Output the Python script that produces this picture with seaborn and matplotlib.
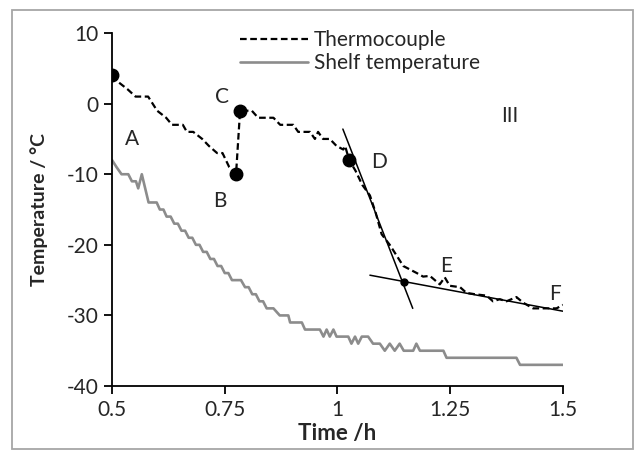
import matplotlib
matplotlib.use("Agg")
import matplotlib.pyplot as plt
from matplotlib.patches import Rectangle
import numpy as np
import pandas as pd
import seaborn as sns

# Thermocouple reading (dashed black)
thermo_t = [0.500, 0.515, 0.535, 0.552, 0.580, 0.600, 0.620, 0.633, 0.657, 0.666,
            0.680, 0.700, 0.715, 0.733, 0.745, 0.760, 0.775, 0.784, 0.810, 0.824,
            0.858, 0.873, 0.902, 0.913, 0.939, 0.950, 0.957, 0.968, 0.983, 0.998,
            1.013, 1.017, 1.026, 1.040, 1.055, 1.072, 1.085, 1.098, 1.116, 1.131,
            1.146, 1.176, 1.190, 1.205, 1.216, 1.227, 1.238, 1.249, 1.272, 1.286,
            1.305, 1.331, 1.345, 1.360, 1.375, 1.397, 1.412, 1.434, 1.464, 1.486, 1.500]
thermo_T = [4, 3, 2, 1, 1, -1, -2, -3, -3, -4,
            -4, -5, -6, -7, -7, -9, -10, -1, -1, -2,
            -2, -3, -3, -4, -4, -5, -4, -5, -5, -6,
            -6.5, -6, -8, -9.5, -11.5, -13, -15.5, -18.5, -20, -21.5,
            -23, -24, -24.5, -24.4, -25, -25.6, -24.6, -25.8, -26, -26.8,
            -27, -27.2, -28, -27.7, -28, -27.4, -28.2, -29, -29, -29, -28.5]

# Shelf temperature (solid grey)
shelf_t = [0.500, 0.510, 0.521, 0.536, 0.544, 0.553, 0.558, 0.566, 0.581, 0.599,
           0.606, 0.614, 0.621, 0.630, 0.638, 0.646, 0.654, 0.662, 0.670, 0.678,
           0.686, 0.694, 0.702, 0.710, 0.718, 0.726, 0.734, 0.742, 0.750, 0.758,
           0.766, 0.786, 0.795, 0.803, 0.811, 0.819, 0.827, 0.835, 0.843, 0.858,
           0.872, 0.891, 0.895, 0.921, 0.928, 0.961, 0.969, 0.976, 0.983, 0.991,
           0.998, 1.024, 1.031, 1.039, 1.046, 1.054, 1.068, 1.079, 1.094, 1.105,
           1.116, 1.127, 1.138, 1.147, 1.168, 1.175, 1.183, 1.235, 1.242, 1.397,
           1.405, 1.500]
shelf_T = [-8, -9, -10, -10, -11, -11, -12, -10, -14, -14,
           -15, -15, -16, -16, -17, -17, -18, -18, -19, -19,
           -20, -20, -21, -21, -22, -22, -23, -23, -24, -24,
           -25, -25, -26, -26, -27, -27, -28, -28, -29, -29,
           -30, -30, -31, -31, -32, -32, -33, -32, -33, -32,
           -33, -33, -34, -33, -34, -33, -33, -34, -34, -35,
           -34, -35, -34, -35, -35, -34, -35, -35, -36, -36,
           -37, -37]

# tangent lines
tan1_t = [1.012, 1.167]
tan1_T = [-3.6, -29.0]
tan2_t = [1.072, 1.500]
tan2_T = [-24.3, -29.4]

# marked points
key_t = [0.500, 0.775, 0.784, 1.026]
key_T = [4, -10, -1, -8]
cross_t = [1.148]
cross_T = [-25.3]

# point labels
label_text = ["A", "B", "C", "D", "E", "F", "III"]
label_t = [0.544, 0.739, 0.743, 1.093, 1.242, 1.482, 1.382]
label_T = [-5.0, -13.8, 0.9, -8.3, -23.0, -27.0, -1.7]

sns.set_style("ticks")
plt.rcParams["font.family"] = ["Lato", "DejaVu Sans"]
plt.rcParams["axes.unicode_minus"] = False
FS = 15

fig = plt.figure(figsize=(6.44, 4.59), dpi=100)
ax = fig.add_axes([0.174, 0.159, 0.700, 0.769])

thermo = pd.DataFrame({"t": thermo_t, "T": thermo_T})
shelf = pd.DataFrame({"t": shelf_t, "T": shelf_T})

sns.lineplot(data=thermo, x="t", y="T", ax=ax, sort=False, color="black",
             linestyle=(0, (3, 1.6)), linewidth=1.6, label="Thermocouple")
sns.lineplot(data=shelf, x="t", y="T", ax=ax, sort=False, color="#8c8c8c",
             linewidth=1.9, label="Shelf temperature")
ax.plot(tan1_t, tan1_T, color="black", linewidth=1.1)
ax.plot(tan2_t, tan2_T, color="black", linewidth=1.1)
ax.plot(key_t, key_T, "o", color="black", markersize=9, linestyle="none")
ax.plot(cross_t, cross_T, "o", color="black", markersize=5, linestyle="none")

for s, tx, ty in zip(label_text, label_t, label_T):
    ax.text(tx, ty, s, fontsize=FS, ha="center", va="center")

ax.set_xlim(0.5, 1.5)
ax.set_ylim(-40, 10)
ax.set_xticks([0.5, 0.75, 1.0, 1.25, 1.5])
ax.set_xticklabels(["0.5", "0.75", "1", "1.25", "1.5"])
ax.set_yticks(np.arange(-40, 11, 10))
ax.tick_params(labelsize=FS, length=6, width=1.3, color="black", pad=4)
ax.set_xlabel("Time /h", fontsize=16, fontweight="bold", labelpad=2)
ax.set_ylabel("Temperature / \u00b0C", fontsize=14, fontweight="bold", labelpad=13)
for sp in ["top", "right"]:
    ax.spines[sp].set_visible(False)
for sp in ["left", "bottom"]:
    ax.spines[sp].set_linewidth(1.3)
    ax.spines[sp].set_color("black")

ax.legend(loc="upper left", bbox_to_anchor=(0.372, 0.935), bbox_transform=fig.transFigure,
          frameon=False, fontsize=FS, handlelength=3.3, handletextpad=0.25,
          labelspacing=0.15, borderaxespad=0, borderpad=0)

fig.patches.append(Rectangle((12 / 644, 1 - 449 / 459), 621 / 644, 439 / 459,
                             transform=fig.transFigure, fill=False,
                             edgecolor="#a6a6a6", linewidth=1.3))

fig.savefig("out.png", dpi=100)
